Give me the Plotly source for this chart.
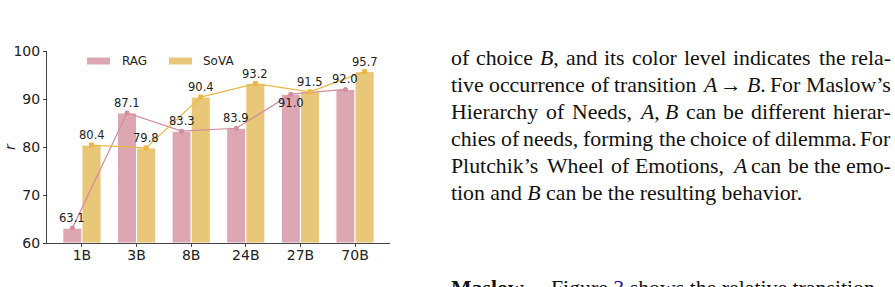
import re
import plotly.graph_objects as go

# ---------------- data ----------------
categories = ["1B", "3B", "8B", "24B", "27B", "70B"]
rag_values = [63.1, 87.1, 83.3, 83.9, 91.0, 92.0]
sova_values = [80.4, 79.8, 90.4, 93.2, 91.5, 95.7]
series_names = ["RAG", "SoVA"]
y_ticks = [60, 70, 80, 90, 100]
rag_label_side = ["above", "above", "above", "above", "below", "above"]
sova_label_side = ["above"] * 6

body_lines = [
    "of choice <i>B</i>, and its color level indicates the rela-",
    "tive occurrence of transition <i>A</i> → <i>B</i>. For Maslow’s",
    "Hierarchy of Needs, <i>A</i>, <i>B</i> can be different hierar-",
    "chies of needs, forming the choice of dilemma. For",
    "Plutchik’s Wheel of Emotions, <i>A</i> can be the emo-",
    "tion and <i>B</i> can be the resulting behavior.",
]
bottom_head = "<b>Maslow</b>"
bottom_rest = "Figure <span style='color:#1a1aa6'>3</span> shows the relative transition"

# ---------------- style ----------------
W, H = 895, 287
L, R, T, B = 47, 390, 51, 243
RAG_BAR = "#DCA7B3"
SOVA_BAR = "#E8C778"
RAG_LINE = "#D48C9E"
SOVA_LINE = "#EAB846"
AX = "#444444"
TXT = "#222222"
BW = 0.35
SERIF = "Liberation Serif"
FS = 21.8
TEXT_L, TEXT_R = 450, 892
BASE0, PITCH = 65, 27
WCORR = 1.018

# Times-Roman advance widths (1/1000 em)
ROMAN = dict(zip("abcdefghijklmnopqrstuvwxyz",
                 [444, 500, 444, 500, 444, 333, 500, 500, 278, 278, 500, 278, 778,
                  500, 500, 500, 500, 333, 389, 278, 500, 500, 722, 500, 500, 444]))
ROMAN.update(dict(zip("ABCDEFGHIJKLMNOPQRSTUVWXYZ",
                      [722, 667, 667, 722, 611, 556, 722, 722, 333, 389, 722, 611, 889,
                       722, 722, 556, 722, 667, 556, 611, 722, 722, 944, 722, 722, 611])))
ROMAN.update({",": 250, ".": 250, "-": 333, "’": 333, " ": 250, "→": 1000})
ITALIC = {"A": 611, "B": 611}


def tok_width(tok, size):
    w = 0
    italic = False
    for part in re.split(r"(</?i>)", tok):
        if part == "<i>":
            italic = True
        elif part == "</i>":
            italic = False
        else:
            for ch in part:
                w += (ITALIC.get(ch, 611) if italic else ROMAN.get(ch, 500))
    return w * size / 1000.0 * WCORR


def px(x):
    return (x - L) / (R - L)


def py(y):
    return (B - y) / (B - T)


idx = list(range(len(categories)))
rag_x = [i - BW / 2 for i in idx]
sova_x = [i + BW / 2 for i in idx]

fig = go.Figure()
fig.add_trace(go.Bar(x=idx, y=[v - 60 for v in rag_values], base=60, width=BW, offset=-BW,
                     marker=dict(color=RAG_BAR, line=dict(color="white", width=1)),
                     name=series_names[0], showlegend=False, hoverinfo="skip"))
fig.add_trace(go.Bar(x=idx, y=[v - 60 for v in sova_values], base=60, width=BW, offset=0,
                     marker=dict(color=SOVA_BAR, line=dict(color="white", width=1)),
                     name=series_names[1], showlegend=False, hoverinfo="skip"))
fig.add_trace(go.Scatter(x=rag_x, y=rag_values, mode="lines+markers",
                         line=dict(color=RAG_LINE, width=1.2),
                         marker=dict(symbol="circle", size=5, color=RAG_LINE),
                         showlegend=False, hoverinfo="skip"))
fig.add_trace(go.Scatter(x=sova_x, y=sova_values, mode="lines+markers",
                         line=dict(color=SOVA_LINE, width=1.2),
                         marker=dict(symbol="square", size=5, color=SOVA_LINE),
                         showlegend=False, hoverinfo="skip"))

annotations = []
for xs, vals, sides in [(rag_x, rag_values, rag_label_side), (sova_x, sova_values, sova_label_side)]:
    for x, v, s in zip(xs, vals, sides):
        annotations.append(dict(x=x, y=v, xref="x", yref="y", text=f"{v:.1f}", showarrow=False,
                                yshift=10 if s == "above" else -9,
                                font=dict(family="DejaVu Sans", size=11.5, color=TXT)))

# manual legend
shapes = []
legend_items = [(series_names[0], RAG_BAR, 87, 120), (series_names[1], SOVA_BAR, 169, 201)]
for name, col, x0, tx in legend_items:
    shapes.append(dict(type="rect", xref="paper", yref="paper", x0=px(x0), x1=px(x0 + 23),
                       y0=py(64.5), y1=py(57.5), fillcolor=col, line=dict(width=0)))
    annotations.append(dict(x=px(tx), y=py(61), xref="paper", yref="paper", text=name,
                            showarrow=False, xanchor="left", yanchor="middle",
                            font=dict(family="DejaVu Sans", size=12, color=TXT)))

# y-axis title
annotations.append(dict(x=px(10), y=py(147), xref="paper", yref="paper", text="<i>r</i>",
                        showarrow=False, textangle=-90, xanchor="center", yanchor="middle",
                        font=dict(family="DejaVu Sans", size=14, color=TXT)))

# body text on the right (justified word by word, last line ragged)
txt_font = dict(family=SERIF, size=FS, color="#111111")
for k, line in enumerate(body_lines):
    yc = py(BASE0 + PITCH * k - 0.33 * FS)
    if k == len(body_lines) - 1:
        annotations.append(dict(x=px(TEXT_L), y=yc, xref="paper", yref="paper", text=line,
                                showarrow=False, xanchor="left", yanchor="middle",
                                borderpad=0, font=txt_font))
        continue
    words = line.split(" ")
    ws = [tok_width(w, FS) for w in words]
    gap = (TEXT_R - TEXT_L - sum(ws)) / (len(words) - 1)
    x = TEXT_L
    for j, (w, wd) in enumerate(zip(words, ws)):
        last = j == len(words) - 1
        annotations.append(dict(x=px(TEXT_R if last else x), y=yc, xref="paper", yref="paper",
                                text=w, showarrow=False, xanchor="right" if last else "left",
                                yanchor="middle", borderpad=0, font=txt_font))
        x += wd + gap

yb = py(295 - 0.33 * FS)
annotations.append(dict(x=px(TEXT_L), y=yb, xref="paper", yref="paper", text=bottom_head,
                        showarrow=False, xanchor="left", yanchor="middle", borderpad=0, font=txt_font))
annotations.append(dict(x=px(550), y=yb, xref="paper", yref="paper", text=bottom_rest,
                        showarrow=False, xanchor="left", yanchor="middle", borderpad=0, font=txt_font))

fig.update_layout(
    width=W, height=H,
    margin=dict(l=L, r=W - R, t=T, b=H - B, pad=0),
    paper_bgcolor="white", plot_bgcolor="white",
    barmode="overlay",
    showlegend=False,
    shapes=shapes,
    annotations=annotations,
    xaxis=dict(range=[-0.64, 5.64], tickvals=idx, ticktext=categories,
               showgrid=False, zeroline=False, showline=True, linecolor=AX, linewidth=1,
               ticks="outside", ticklen=3, tickcolor=AX, tickwidth=1, ticklabelstandoff=-4,
               tickfont=dict(family="DejaVu Sans", size=14, color=TXT)),
    yaxis=dict(range=[60, 100], tickvals=y_ticks,
               showgrid=False, zeroline=False, showline=True, linecolor=AX, linewidth=1,
               ticks="outside", ticklen=3, tickcolor=AX, tickwidth=1,
               tickfont=dict(family="DejaVu Sans", size=14, color=TXT)),
)

fig.write_html("out.html")
